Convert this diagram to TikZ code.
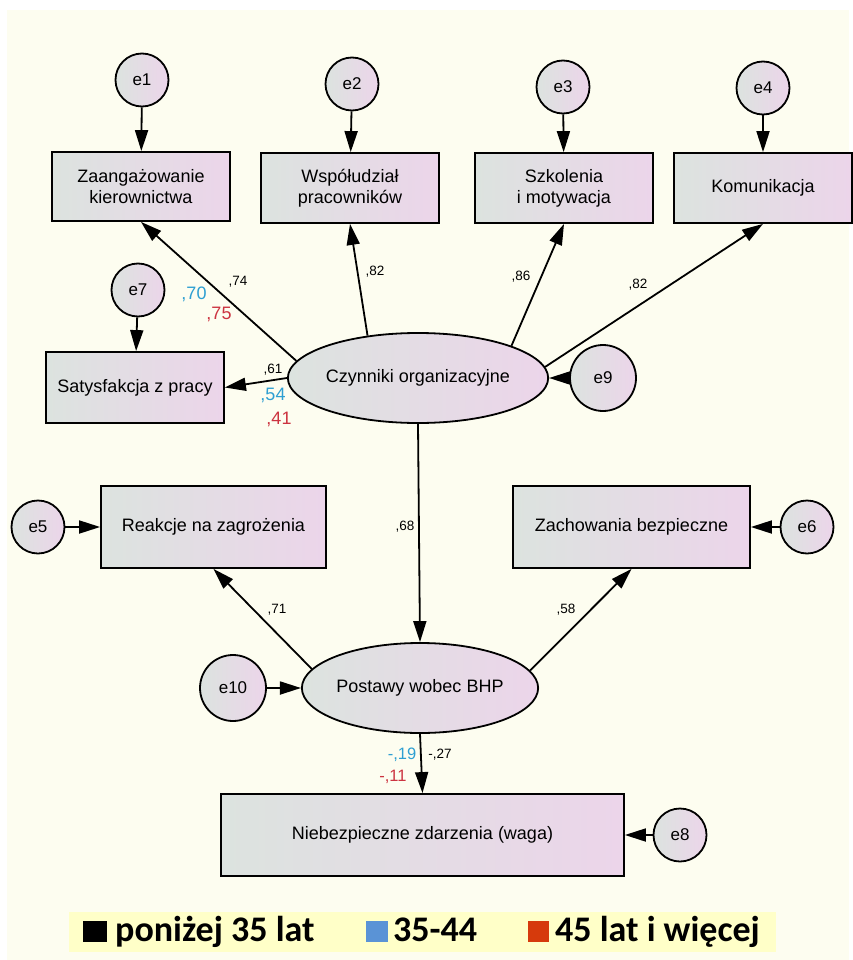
\documentclass[tikz,border=0pt]{standalone}
\usepackage{fontspec}
\setmainfont{Liberation Sans}
\newfontfamily\legendfont{Carlito}
\usetikzlibrary{shapes.geometric,arrows.meta}
\definecolor{bgcream}{HTML}{FDFDF0}
\definecolor{bandyellow}{HTML}{FFFFC8}
\definecolor{boxleft}{HTML}{DCE3DF}
\definecolor{boxright}{HTML}{ECD5EA}
\definecolor{coefblue}{HTML}{2E9FD2}
\definecolor{coefred}{HTML}{CC3340}
\definecolor{legblue}{HTML}{5A93D6}
\definecolor{legred}{HTML}{D63A0C}

\begin{document}
\begin{tikzpicture}[x=1pt,y=-1pt,
	obs/.style={draw,line width=1.8pt,left color=boxleft,right color=boxright,align=center,inner sep=0pt,font=\fontsize{18}{21}\selectfont},
	lat/.style={ellipse,draw,line width=1.8pt,left color=boxleft,right color=boxright,inner sep=0pt,font=\fontsize{18}{21}\selectfont},
	err/.style={circle,draw,line width=1.8pt,left color=boxleft,right color=boxright,inner sep=0pt,minimum size=53pt,font=\fontsize{17}{20}\selectfont},
	arr/.style={line width=1.8pt,-{Triangle[length=21pt,width=13pt]}},
	coef/.style={inner sep=0pt,font=\fontsize{13.5}{15}\selectfont},
	coefb/.style={inner sep=0pt,text=coefblue,font=\fontsize{18}{20}\selectfont},
	coefr/.style={inner sep=0pt,text=coefred,font=\fontsize{18}{20}\selectfont},
	legend/.style={inner sep=0pt,anchor=base west,font=\legendfont\bfseries\fontsize{36}{40}\selectfont}]
\fill[white] (0,0) rectangle (849,960);
\fill[bgcream] (7,10) rectangle (849,960);

\node[obs,minimum width=178pt,minimum height=69pt] (zg) at (141,186.5) {Zaangażowanie\\kierownictwa};
\node[obs,minimum width=178pt,minimum height=70pt] (ws) at (350,188) {Współudział\\pracowników};
\node[obs,minimum width=178pt,minimum height=70pt] (sz) at (564,188) {Szkolenia\\i motywacja};
\node[obs,minimum width=178pt,minimum height=70pt] (km) at (763,188) {Komunikacja};
\node[obs,minimum width=178pt,minimum height=71pt] (st) at (135,387.5) {Satysfakcja z pracy};
\node[obs,minimum width=225pt,minimum height=82pt] (rk) at (213.5,527) {Reakcje na zagrożenia};
\node[obs,minimum width=237pt,minimum height=82pt] (zb) at (631.5,527) {Zachowania bezpieczne};
\node[obs,minimum width=403pt,minimum height=82pt] (nz) at (422.5,835) {Niebezpieczne zdarzenia (waga)};

\node[lat,minimum width=228pt,minimum height=90pt] (cz) at (418,378) {Czynniki organizacyjne};
\node[lat,minimum width=225pt,minimum height=90pt] (pw) at (420,688) {Postawy wobec BHP};

\foreach \n/\x/\y in {1/142/80,2/352/84,3/563/87,4/763/88,5/38/527,6/807/527,7/138/290,8/680/835}
	\node[err] (e\n) at (\x,\y) {e\n};
\node[err,minimum size=66pt] (e9) at (603,378) {e9};
\node[err,minimum size=66pt] (e10) at (233,688) {e10};

\draw[arr] (e1) -- (zg);
\draw[arr] (e2) -- (ws);
\draw[arr] (e3) -- (sz);
\draw[arr] (e4) -- (km);
\draw[arr] (e7) -- (st);
\draw[arr] (e5) -- (rk);
\draw[arr] (e6) -- (zb);
\draw[arr] (e8) -- (nz);
\draw[arr] (e9) -- (cz);
\draw[arr] (e10) -- (pw);

\draw[arr] (cz.172) -- (zg.south);
\draw[arr] (cz.140) -- (ws.south);
\draw[arr] (cz.19) -- (sz.south);
\draw[arr] (cz.5) -- (km.south);
\draw[arr] (cz.west) -- (st.east);
\draw[arr] (cz.south) -- (pw.north);
\draw[arr] (pw.170) -- (rk.south);
\draw[arr] (pw.9) -- (zb.south);
\draw[arr] (pw.south) -- (nz.north);

\node[coef] (l74) at (238,282) {,74};
\node[coefb] (l70) at (194,294) {,70};
\node[coefr] (l75) at (219,314) {,75};
\node[coef] (l82a) at (375,272) {,82};
\node[coef] (l86) at (521,277) {,86};
\node[coef] (l82b) at (638,285) {,82};
\node[coef] (l61) at (273,370) {,61};
\node[coefb] (l54) at (273,395) {,54};
\node[coefr] (l41) at (279,419) {,41};
\node[coef] (l68) at (405,527) {,68};
\node[coef] (l71) at (277,610) {,71};
\node[coef] (l58) at (566,610) {,58};
\node[coefb,font=\fontsize{16.5}{18}\selectfont] (l19) at (402,755) {-,19};
\node[coef] (l27) at (440,755) {-,27};
\node[coefr,font=\fontsize{16.5}{18}\selectfont] (l11) at (393,777) {-,11};

\fill[bandyellow] (69,912) rectangle (776,952);
\fill[black] (83,921) rectangle (107,942);
\fill[legblue] (366,921) rectangle (388,942);
\fill[legred] (528,921) rectangle (549,942);
\node[legend] (g1) at (115,941) {poniżej 35 lat};
\node[legend] (g2) at (393,941) {35-44};
\node[legend] (g3) at (555,941) {45 lat i więcej};
\end{tikzpicture}
\end{document}
